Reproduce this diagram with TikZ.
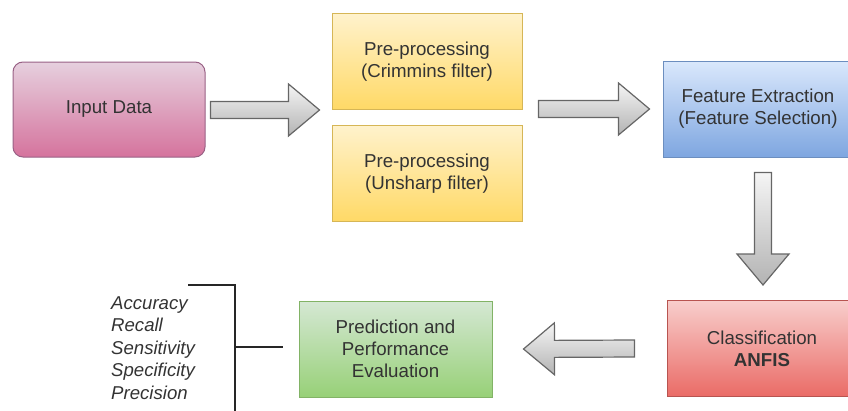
\documentclass[tikz,border=0pt]{standalone}
\usepackage{fontspec}
\setmainfont{Liberation Sans}
\usetikzlibrary{calc}
\definecolor{txt}{HTML}{333333}
\definecolor{pinktop}{HTML}{E6D0DE}
\definecolor{pinkbot}{HTML}{D5739D}
\definecolor{pinkline}{HTML}{996185}
\definecolor{yeltop}{HTML}{FFF2CC}
\definecolor{yelbot}{HTML}{FFD966}
\definecolor{yelline}{HTML}{D6B656}
\definecolor{bluetop}{HTML}{DAE8FC}
\definecolor{bluebot}{HTML}{7EA6E0}
\definecolor{blueline}{HTML}{6C8EBF}
\definecolor{greentop}{HTML}{D5E8D4}
\definecolor{greenbot}{HTML}{97D077}
\definecolor{greenline}{HTML}{82B366}
\definecolor{redtop}{HTML}{F8CECC}
\definecolor{redbot}{HTML}{EA6B66}
\definecolor{redline}{HTML}{B85450}
\definecolor{arrtop}{HTML}{F5F5F5}
\definecolor{arrbot}{HTML}{B3B3B3}
\definecolor{arrline}{HTML}{666666}
\tikzset{
  box/.style={rectangle, line width=1pt, minimum width=190pt, minimum height=96pt,
    align=center, text=txt, font=\fontsize{18.7}{22}\selectfont},
  garrow/.style={draw=arrline, line width=1.2pt, top color=arrtop, bottom color=arrbot},
  brace/.style={draw=black!85, line width=2.3pt},
  metrics/.style={align=left, text=txt, inner sep=0pt, font=\fontsize{18.6}{22.5}\selectfont\itshape}
}
\def\blockarrow(#1)(#2){%
  \coordinate (ah) at ($(#2)!31pt!(#1)$);
  \draw[garrow] ($(#1)!8.5pt!90:(#2)$) -- ($(ah)!8.5pt!90:(#2)$) -- ($(ah)!26pt!90:(#2)$)
    -- (#2) -- ($(ah)!26pt!-90:(#2)$) -- ($(ah)!8.5pt!-90:(#2)$) -- ($(#1)!8.5pt!-90:(#2)$) -- cycle;}

\begin{document}
\begin{tikzpicture}[x=1pt,y=-1pt]
	%%%%% START %%%%%
	\useasboundingbox (0,0) rectangle (848,410);
	\clip (0,0) rectangle (848,410);
	
	\node[box, draw=pinkline, top color=pinktop, bottom color=pinkbot, rounded corners=10pt,
	  minimum width=192pt, minimum height=95pt] (in) at (109,109.5) {Input Data};
	
	\node[box, draw=yelline, top color=yeltop, bottom color=yelbot] (pre1) at (427,61.5) {Pre-processing\\(Crimmins filter)};
	\node[box, draw=yelline, top color=yeltop, bottom color=yelbot] (pre2) at (427,173.5) {Pre-processing\\(Unsharp filter)};
	
	\node[box, draw=blueline, top color=bluetop, bottom color=bluebot] (feat) at (758,109) {Feature Extraction\\(Feature Selection)};
	\node[box, draw=redline, top color=redtop, bottom color=redbot] (cls) at (762,348.5) {Classification\\\textbf{ANFIS}};
	
	\node[box, draw=greenline, top color=greentop, bottom color=greenbot, minimum width=193pt] (pred) at (395.5,349) {Prediction and\\Performance\\Evaluation};
	
	\node[metrics, anchor=west] (met) at (111,348) {Accuracy\\Recall\\Sensitivity\\Specificity\\Precision};
	
	% block arrows
	\coordinate (a1s) at ($(in.east)+(5,0.5)$);
	\coordinate (a1e) at ($(pre1.west |- a1s)+(-12,0)$);
	\blockarrow(a1s)(a1e)
	
	\coordinate (a2s) at ($(pre1.east |- feat.west)+(16,0)$);
	\coordinate (a2e) at ($(feat.west)+(-13,0)$);
	\blockarrow(a2s)(a2e)
	
	\coordinate (a3s) at ($(feat.south)+(5,15)$);
	\coordinate (a3e) at ($(cls.north)+(1,-15)$);
	\blockarrow(a3s)(a3e)
	
	\coordinate (a4s) at ($(cls.west)+(-32,0)$);
	\coordinate (a4e) at ($(pred.east)+(31,0)$);
	\blockarrow(a4s)(a4e)
	
	% bracket
	\coordinate (bt) at (188,285);
	\coordinate (bc) at (235,285);
	\coordinate (bb) at (235,415);
	\coordinate (bm) at (235,347);
	\coordinate (be) at ($(pred.west |- bm)+(-16,0)$);
	\draw[brace] (bt) -- (bc) -- (bb);
	\draw[brace] (bm) -- (be);
	
	%%%%% END %%%%%
\end{tikzpicture}
\end{document}
